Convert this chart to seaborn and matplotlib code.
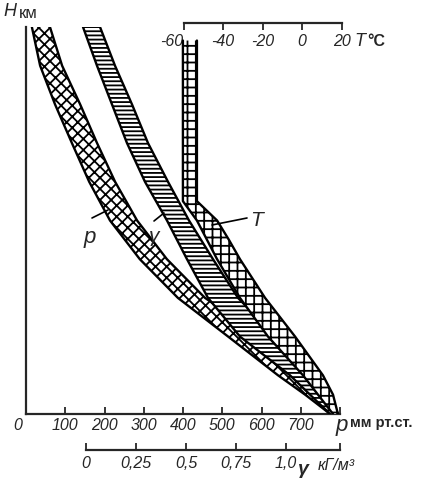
import matplotlib
matplotlib.use("Agg")
import matplotlib.pyplot as plt
import seaborn as sns

sns.set_style("white")
plt.rcParams["font.family"] = ["Liberation Sans", "DejaVu Sans"]
plt.rcParams["hatch.linewidth"] = 1.3

# height levels, km
H = [0, 1, 2, 4, 6, 8, 10, 12, 14, 16, 18, 20]
# pressure band, mm Hg
p_lo = [775, 711, 642, 515, 387, 290, 214, 161, 117, 74, 36, 15]
p_hi = [795, 762, 724, 601, 456, 359, 283, 227, 181, 138, 92, 61]
# density band, kG/m3
g_lo = [1.22, 1.12, 1.02, 0.77, 0.61, 0.505, 0.405, 0.295, 0.205, 0.13, 0.055, -0.015]
g_hi = [1.26, 1.22, 1.17, 0.95, 0.76, 0.635, 0.515, 0.41, 0.31, 0.23, 0.145, 0.07]
# temperature band, deg C
H_T = [0, 1, 2, 4, 6, 8, 9, 10, 11, 19.3]
T_lo = [15.7, 8.1, 0.5, -17.2, -31.4, -43.0, -48.1, -53.2, -60.3, -60.3]
T_hi = [18.2, 15.7, 10.6, -3.5, -18.7, -31.4, -37.0, -43.0, -53.2, -53.2]

p_ticks = [100, 200, 300, 400, 500, 600, 700]
g_ticks = [0, 0.25, 0.5, 0.75, 1.0]
g_labels = ["0", "0,25", "0,5", "0,75", "1,0"]
T_ticks = [-60, -40, -20, 0, 20]
H_ticks = [2, 4, 6, 8, 10, 12, 14, 16, 18, 20]

W, Hpx = 433, 482
fig = plt.figure(figsize=(W / 100, Hpx / 100), dpi=100)
box = [26 / W, (Hpx - 414) / Hpx, 316 / W, 387 / Hpx]
ax = fig.add_axes(box)
axg = ax.twiny()
axT = ax.twiny()

tfont = dict(fontsize=11.5, fontstyle="italic")

def band(a, y, lo, hi, hatch):
    a.fill_betweenx(y, lo, hi, facecolor="white", edgecolor="black",
                    hatch=hatch, linewidth=0, zorder=2)
    sns.lineplot(x=lo, y=y, orient="y", sort=False, color="black", lw=1.7, ax=a, zorder=3)
    sns.lineplot(x=hi, y=y, orient="y", sort=False, color="black", lw=1.7, ax=a, zorder=3)

band(ax, H, p_lo, p_hi, "xxx")
band(axg, H, g_lo, g_hi, "----")
band(axT, H_T, T_lo, T_hi, "++")

# main axis: pressure
ax.set_xlim(0, 805)
ax.set_ylim(0, 20)
for s in ["top", "right"]:
    ax.spines[s].set_visible(False)
ax.spines["left"].set_linewidth(1.6)
ax.spines["bottom"].set_linewidth(1.6)
ax.spines["bottom"].set_bounds(0, 800)
ax.set_xticks(p_ticks)
ax.set_xticks([800], minor=True)
ax.set_yticks(H_ticks)
ax.set_xticklabels([str(v) for v in p_ticks], **tfont)
ax.set_yticklabels([str(v) for v in H_ticks], **tfont)
ax.tick_params(axis="both", which="both", direction="in", length=5, width=1.3, pad=3)
ax.set_xlabel("")
ax.set_ylabel("")

# density scale
axg.set_xlim((26 - 86) / 200, (342 - 86) / 200)
axg.xaxis.set_ticks_position("bottom")
axg.xaxis.set_label_position("bottom")
for s in ["top", "right", "left"]:
    axg.spines[s].set_visible(False)
axg.spines["bottom"].set_position(("axes", -36 / 387))
axg.spines["bottom"].set_bounds(0, 1.27)
axg.spines["bottom"].set_linewidth(1.6)
axg.set_xticks(g_ticks)
axg.set_xticks([1.27], minor=True)
axg.set_xticklabels(g_labels, **tfont)
axg.tick_params(axis="x", which="both", direction="in", length=5, width=1.3, pad=4)
axg.set_xlabel("")
axg.set_ylabel("")

# temperature scale
axT.set_xlim((26 - 302) / 1.975, (342 - 302) / 1.975)
axT.xaxis.set_ticks_position("bottom")
axT.xaxis.set_label_position("bottom")
for s in ["top", "right", "left"]:
    axT.spines[s].set_visible(False)
axT.spines["bottom"].set_position(("axes", 391 / 387))
axT.spines["bottom"].set_bounds(-60, 20)
axT.spines["bottom"].set_linewidth(1.6)
axT.set_xticks(T_ticks)
axT.set_xticklabels([str(v) for v in T_ticks], **tfont)
axT.get_xticklabels()[0].set_ha("right")
axT.tick_params(axis="x", direction="out", length=5, width=1.3, pad=3)
axT.set_xlabel("")
axT.set_ylabel("")
for a in (axg, axT):
    a.set_yticks([])
    a.set_ylim(0, 20)
    a.patch.set_visible(False)

def ftext(x, y, s, **kw):
    fig.text(x / W, 1 - y / Hpx, s, va="center", **kw)

ftext(3, 12, "H", fontsize=13, fontstyle="italic")
ftext(19, 13, "км", fontsize=12)
ftext(13, 425, "0", fontsize=11.5, fontstyle="italic")
ftext(336, 425, "p", fontsize=16, fontstyle="italic")
ftext(350, 423, "мм рт.ст.", fontsize=10.5, fontweight="bold")
ftext(354, 42, "T", fontsize=13, fontstyle="italic")
ftext(367, 42, "°C", fontsize=11.5, fontweight="bold")
ftext(298, 469, "γ", fontsize=14, fontstyle="italic", fontweight="bold")
ftext(318, 466, "кГ/м³", fontsize=11.5, fontstyle="italic")

# curve labels with leader lines
ftext(84, 237, "p", fontsize=16, fontstyle="italic")
ftext(149, 236, "γ", fontsize=15, fontstyle="italic")
ftext(250, 221, "T", fontsize=15, fontstyle="italic")
fig.add_artist(plt.Line2D([92 / W, 108 / W], [1 - 218 / Hpx, 1 - 210 / Hpx], color="black", lw=1.2))
fig.add_artist(plt.Line2D([154 / W, 164 / W], [1 - 221 / Hpx, 1 - 213 / Hpx], color="black", lw=1.2))
fig.add_artist(plt.Line2D([212 / W, 247 / W], [1 - 225 / Hpx, 1 - 218 / Hpx], color="black", lw=1.2))

fig.savefig("out.png", dpi=100)
